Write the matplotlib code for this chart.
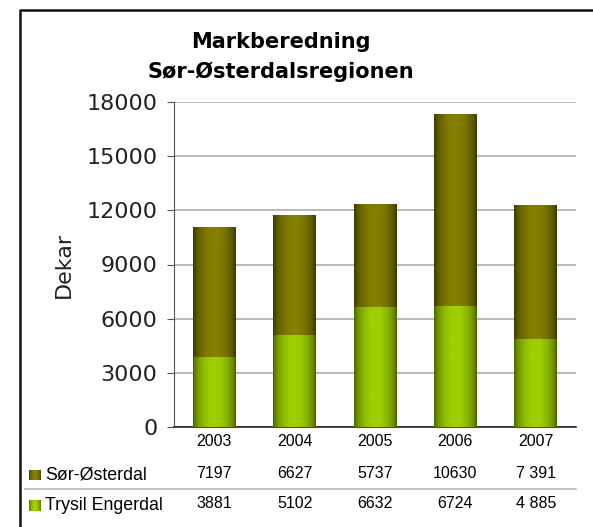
import numpy as np
import matplotlib
matplotlib.use('Agg')
import matplotlib.pyplot as plt
import matplotlib.transforms as mtransforms
from matplotlib.colors import LinearSegmentedColormap
from matplotlib.lines import Line2D

# Data
years = ['2003', '2004', '2005', '2006', '2007']
sor_osterdal = [7197, 6627, 5737, 10630, 7391]
trysil_engerdal = [3881, 5102, 6632, 6724, 4885]
sor_labels = ['7197', '6627', '5737', '10630', '7 391']
trysil_labels = ['3881', '5102', '6632', '6724', '4 885']
series_names = ['Sør-Østerdal', 'Trysil Engerdal']
yticks = [0, 3000, 6000, 9000, 12000, 15000, 18000]

W, H = 593, 527
fig = plt.figure(figsize=(W / 100, H / 100), dpi=100)
fig.patch.set_facecolor('white')

# Plot area in pixels
left, right, top, bottom = 174, 576, 102, 427
ax = fig.add_axes([left / W, 1 - bottom / H, (right - left) / W, (bottom - top) / H])

# gradient colormaps (dark edges, lighter middle)
cmap_top = LinearSegmentedColormap.from_list('top', ['#353300', '#857f00'])
cmap_bot = LinearSegmentedColormap.from_list('bot', ['#435a00', '#9fd000'])
t = np.linspace(0, 1, 200)
shade = np.sin(np.pi * t) ** 0.6
grad = shade[np.newaxis, :]

x = np.arange(len(years))
width = 0.53
bars_bot = ax.bar(x, trysil_engerdal, width, facecolor='none', edgecolor='none', zorder=3)
bars_top = ax.bar(x, sor_osterdal, width, bottom=trysil_engerdal, facecolor='none',
                  edgecolor='none', zorder=3)

for bars, cmap in [(bars_bot, cmap_bot), (bars_top, cmap_top)]:
    for p in bars:
        x0, y0 = p.get_x(), p.get_y()
        im = ax.imshow(grad, extent=[x0, x0 + p.get_width(), y0, y0 + p.get_height()],
                       aspect='auto', cmap=cmap, vmin=0, vmax=1, zorder=3,
                       interpolation='bilinear')
        im.set_clip_path(p)

ax.set_xlim(-0.5, len(years) - 0.5)
ax.set_ylim(0, 18000)
ax.set_yticks(yticks)
ax.set_yticklabels([str(v) for v in yticks], fontsize=16, family='DejaVu Sans',
                   color='#222222')
ax.set_xticks([])
ax.yaxis.grid(True, color='#a6a6a6', linewidth=1.1, zorder=0)
ax.set_axisbelow(True)
for s in ['top', 'right']:
    ax.spines[s].set_visible(False)
ax.spines['left'].set_color('#555555')
ax.spines['bottom'].set_color('#222222')
ax.spines['bottom'].set_linewidth(1.2)
ax.tick_params(axis='y', length=5, color='#555555', pad=7)
ax.set_facecolor('white')

ax.set_ylabel('Dekar', fontsize=16, labelpad=9, color='#222222')

# Title
fig.text(280.5 / W, 1 - 42 / H, 'Markberedning', ha='center', va='center',
         fontsize=15, fontweight='bold')
fig.text(280.5 / W, 1 - 72 / H, 'Sør-Østerdalsregionen', ha='center', va='center',
         fontsize=15, fontweight='bold')

# Data table below the chart
trans = mtransforms.blended_transform_factory(ax.transData, fig.transFigure)
tfont = dict(fontsize=11.5, family='Liberation Sans', ha='center', va='center')
for i, yr in enumerate(years):
    fig.text(x[i], 1 - 441 / H, yr, transform=trans, **tfont)
    fig.text(x[i], 1 - 474 / H, sor_labels[i], transform=trans, **tfont)
    fig.text(x[i], 1 - 504 / H, trysil_labels[i], transform=trans, **tfont)

row_y = [475, 505]
row_cols = [('#3f3d00', '#867f00'), ('#4a6400', '#9fd000')]
for name, yy, (c_dark, c_light) in zip(series_names, row_y, row_cols):
    sq = fig.add_axes([29 / W, 1 - (yy + 5.5) / H, 11 / W, 11 / H])
    sq.imshow(grad, aspect='auto', extent=[0, 1, 0, 1], vmin=0, vmax=1,
              cmap=LinearSegmentedColormap.from_list('sq', [c_dark, c_light]))
    sq.axis('off')
    fig.text(45 / W, 1 - yy / H, name, ha='left', va='center', fontsize=12.8,
             family='Liberation Sans')

fig.add_artist(Line2D([25 / W, right / W], [1 - 489 / H, 1 - 489 / H],
                      color='#b0b0b0', linewidth=1.1))

# outer frame (only left and top visible)
fig.add_artist(Line2D([20 / W, 20 / W, 1.0], [0, 1 - 9.5 / H, 1 - 9.5 / H],
                      color='#111111', linewidth=1.8))

fig.savefig('out.png', dpi=100)
